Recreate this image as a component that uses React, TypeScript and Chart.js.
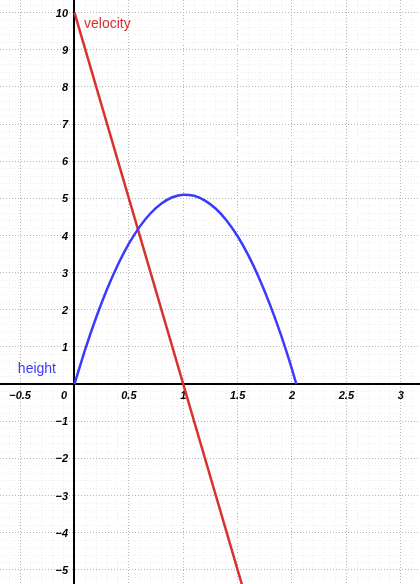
import React, { useEffect, useRef } from "react";
import { Chart, registerables } from "chart.js";

Chart.register(...registerables);

// ---- data ----
const heightT = [0, 0.1, 0.2, 0.3, 0.4, 0.5, 0.6, 0.7, 0.8, 0.9, 1.0, 1.1, 1.2, 1.3, 1.4, 1.5, 1.6, 1.7, 1.8, 1.9, 2.0, 2.04];
const heightVals = [0, 0.95, 1.8, 2.56, 3.22, 3.78, 4.24, 4.6, 4.86, 5.03, 5.1, 5.07, 4.94, 4.72, 4.4, 3.98, 3.46, 2.84, 2.12, 1.31, 0.4, 0];
const velocityT = [0, 1.6];
const velocityVals = [10, -6];

const xTickValues = [-0.5, 0.5, 1, 1.5, 2, 2.5, 3];
const xTickLabels = ["\u22120.5", "0.5", "1", "1.5", "2", "2.5", "3"];
const yTickValues = [-5, -4, -3, -2, -1, 1, 2, 3, 4, 5, 6, 7, 8, 9, 10];
const yTickLabels = ["\u22125", "\u22124", "\u22123", "\u22122", "\u22121", "1", "2", "3", "4", "5", "6", "7", "8", "9", "10"];
const originLabel = "0";
const seriesNames = ["height", "velocity"];

const X_MIN = -0.685;
const X_MAX = 3.177;
const Y_MIN = -5.38;
const Y_MAX = 10.34;

const RED = "#d93030";
const BLUE = "#3a3aff";

function isMajor(v: number, step: number) {
  const r = v / step;
  return Math.abs(r - Math.round(r)) < 1e-6;
}

const axesPlugin = {
  id: "customAxes",
  beforeDatasetsDraw(chart: any) {
    const { ctx, chartArea, scales } = chart;
    const x0 = Math.round(scales.x.getPixelForValue(0));
    const y0 = Math.round(scales.y.getPixelForValue(0));
    ctx.save();
    ctx.strokeStyle = "#000";
    ctx.lineWidth = 2;
    ctx.beginPath();
    ctx.moveTo(x0, chartArea.top);
    ctx.lineTo(x0, chartArea.bottom);
    ctx.stroke();
    ctx.lineWidth = 1.8;
    ctx.beginPath();
    ctx.moveTo(chartArea.left, y0);
    ctx.lineTo(chartArea.right, y0);
    ctx.stroke();

    ctx.fillStyle = "#000";
    ctx.font = 'italic bold 11px "Liberation Sans", Arial, sans-serif';
    ctx.textBaseline = "middle";
    ctx.textAlign = "center";
    xTickValues.forEach((v, i) => {
      ctx.fillText(xTickLabels[i], scales.x.getPixelForValue(v), y0 + 12);
    });
    ctx.textAlign = "right";
    yTickValues.forEach((v, i) => {
      ctx.fillText(yTickLabels[i], x0 - 6, scales.y.getPixelForValue(v) + 1);
    });
    ctx.fillText(originLabel, x0 - 7, y0 + 12);

    ctx.font = '14px "Liberation Sans", Arial, sans-serif';
    ctx.textAlign = "right";
    ctx.fillStyle = BLUE;
    ctx.fillText(seriesNames[0], x0 - 18, y0 - 15);
    ctx.textAlign = "left";
    ctx.fillStyle = RED;
    ctx.fillText(seriesNames[1], x0 + 10, scales.y.getPixelForValue(10) + 12);
    ctx.restore();
  },
};

export default function App() {
  const ref = useRef<HTMLCanvasElement | null>(null);
  useEffect(() => {
    document.body.style.margin = "0";
    const canvas = ref.current!;
    const chart = new Chart(canvas, {
      type: "line",
      data: {
        datasets: [
          {
            label: seriesNames[0],
            data: heightT.map((t, i) => ({ x: t, y: heightVals[i] })),
            borderColor: BLUE,
            borderWidth: 2.5,
            pointRadius: 0,
            cubicInterpolationMode: "monotone",
            fill: false,
          },
          {
            label: seriesNames[1],
            data: velocityT.map((t, i) => ({ x: t, y: velocityVals[i] })),
            borderColor: RED,
            borderWidth: 2.5,
            pointRadius: 0,
            fill: false,
          },
        ],
      },
      options: {
        responsive: false,
        animation: false,
        layout: { padding: 0 },
        plugins: { legend: { display: false }, tooltip: { enabled: false } },
        scales: {
          x: {
            type: "linear",
            min: X_MIN,
            max: X_MAX,
            ticks: { display: false, stepSize: 0.1, includeBounds: false },
            border: { display: false, dash: [1, 2] },
            grid: {
              drawTicks: false,
              lineWidth: 1,
              color: (c: any) => (c.tick && isMajor(c.tick.value, 0.5) ? "#b4b4b4" : "#ececec"),
            },
          },
          y: {
            type: "linear",
            min: Y_MIN,
            max: Y_MAX,
            ticks: { display: false, stepSize: 0.2, includeBounds: false },
            border: { display: false, dash: [1, 2] },
            grid: {
              drawTicks: false,
              lineWidth: 1,
              color: (c: any) => (c.tick && isMajor(c.tick.value, 1) ? "#b4b4b4" : "#ececec"),
            },
          },
        },
      },
      plugins: [axesPlugin],
    });
    return () => chart.destroy();
  }, []);
  return (
    <div style={{ width: 420, height: 584 }}>
      <canvas ref={ref} width={420} height={584} style={{ display: "block" }} />
    </div>
  );
}
